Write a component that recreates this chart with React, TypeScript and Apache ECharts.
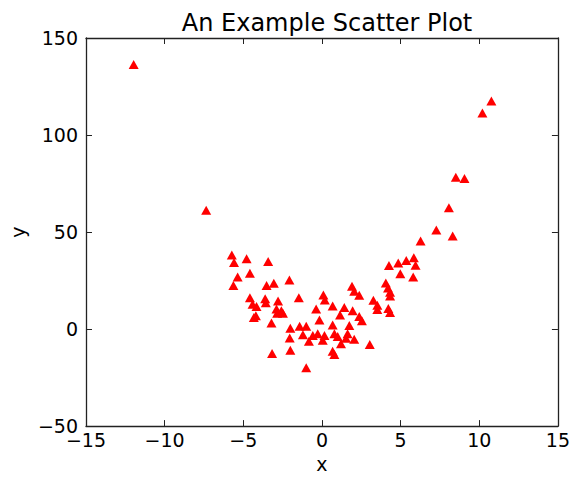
import React, { useEffect, useRef } from "react";
import * as echarts from "echarts";

const xTicks = [-15, -10, -5, 0, 5, 10, 15];
const yTicks = [-50, 0, 50, 100, 150];

const xValues = [
  -11.97, -7.36, 10.2, 10.77,
  8.51, 9.06, 8.07, 7.27, 8.31, 6.27, 4.26, 4.85, 5.36, 5.84, 5.95, 4.98, 5.8, 4.06, 4.2, 4.33, 4.33, 3.27, 3.52, 3.52, 4.22, 4.33, 2.37,
  -5.73, -5.59, -4.79, -3.42, -4.58, -5.36, -5.63, -3.52, -3.06, -2.07, -1.47, -4.58, -3.61, -2.79, -4.41, -4.16, -3.57, -2.89, -2.58,
  -2.85, -2.48, -4.2, -4.33, -3.21, -3.17, -2.01, -2.05, -2.01, -1.42, -1.0, -1.21, -0.83, -0.58, -0.27, 0.05, 0.16, -1.0, -0.37,
  0.09, 0.18, -0.16, 0.68, 1.42, 1.95, 1.15, 2.37, 2.54, 0.68, 1.74, 0.79, 1.0, 1.63, 1.53, 1.21, 2.05, 3.04, 0.68, 0.79, 1.91, 2.05,
];
const yValues = [
  136.3, 61.2, 111.4, 117.5,
  78.3, 77.6, 62.5, 51.0, 48.0, 45.4, 32.7, 34.1, 35.4, 36.8, 32.9, 28.5, 26.8, 23.8, 21.2, 19.0, 17.0, 14.8, 12.3, 10.1, 10.6, 8.5, 17.4,
  38.2, 34.3, 36.3, 34.8, 28.8, 26.8, 22.4, 22.4, 23.6, 25.3, 16.1, 16.1, 15.6, 14.5, 12.8, 11.6, 13.6, 10.3, 9.4,
  8.2, 8.2, 6.9, 6.0, 3.1, -12.6, -10.9, -4.6, 0.4, 1.4, 1.4, -2.9, -6.3, -3.3, -2.4, -5.8, -3.3, -19.9, 10.3,
  17.5, 15.0, 4.7, 11.9, 11.1, 9.4, 7.2, 6.5, 4.3, 2.1, 1.8, -2.4, -3.8, -2.4, -4.7, -7.5, -5.3, -8.0, -11.4, -13.1, 22.1, 19.5,
];

const FONT = "DejaVu Sans";
const fmt = (v: number) => String(v).replace("-", "\u2212");

export default function App() {
  const ref = useRef<HTMLDivElement>(null);
  useEffect(() => {
    if (!ref.current) return;
    const chart = echarts.init(ref.current, null, { renderer: "svg" });
    const data = xValues.map((x, i) => [x, yValues[i]]);
    const lineStyle = { color: "#222", width: 1.3 };
    const tickStyle = { show: true, inside: true, length: 6, lineStyle: { color: "#222", width: 1 } };
    chart.setOption({
      animation: false,
      backgroundColor: "#fff",
      title: {
        text: "An Example Scatter Plot",
        left: 322,
        textAlign: "center",
        top: 6,
        textStyle: { fontFamily: FONT, fontSize: 24, fontWeight: "normal", color: "#000" },
      },
      grid: { left: 85, right: 13, top: 38, bottom: 46, containLabel: false },
      xAxis: [
        {
          type: "value",
          min: xTicks[0],
          max: xTicks[xTicks.length - 1],
          interval: 5,
          name: "x",
          nameLocation: "middle",
          nameGap: 26,
          nameTextStyle: { fontFamily: FONT, fontSize: 19, color: "#000" },
          axisLine: { show: true, onZero: false, lineStyle },
          axisTick: tickStyle,
          axisLabel: { fontFamily: FONT, fontSize: 19, lineHeight: 13, color: "#000", margin: 7, formatter: fmt },
          splitLine: { show: false },
        },
        {
          type: "value",
          position: "top",
          min: xTicks[0],
          max: xTicks[xTicks.length - 1],
          interval: 5,
          axisLine: { show: true, onZero: false, lineStyle },
          axisTick: tickStyle,
          axisLabel: { show: false },
          splitLine: { show: false },
        },
      ],
      yAxis: [
        {
          type: "value",
          min: yTicks[0],
          max: yTicks[yTicks.length - 1],
          interval: 50,
          name: "y",
          nameLocation: "middle",
          nameGap: 58,
          nameRotate: 90,
          nameTextStyle: { fontFamily: FONT, fontSize: 19, color: "#000" },
          axisLine: { show: true, onZero: false, lineStyle },
          axisTick: tickStyle,
          axisLabel: { fontFamily: FONT, fontSize: 19, lineHeight: 13, color: "#000", margin: 8, formatter: fmt },
          splitLine: { show: false },
        },
        {
          type: "value",
          position: "right",
          min: yTicks[0],
          max: yTicks[yTicks.length - 1],
          interval: 50,
          axisLine: { show: true, onZero: false, lineStyle },
          axisTick: tickStyle,
          axisLabel: { show: false },
          splitLine: { show: false },
        },
      ],
      series: [
        {
          type: "scatter",
          data,
          symbol: "triangle",
          symbolSize: [10, 9],
          itemStyle: { color: "#ff0000", opacity: 1 },
        },
      ],
    });
    return () => chart.dispose();
  }, []);
  return <div ref={ref} style={{ width: 573, height: 478, position: "absolute", left: 0, top: 0 }} />;
}
